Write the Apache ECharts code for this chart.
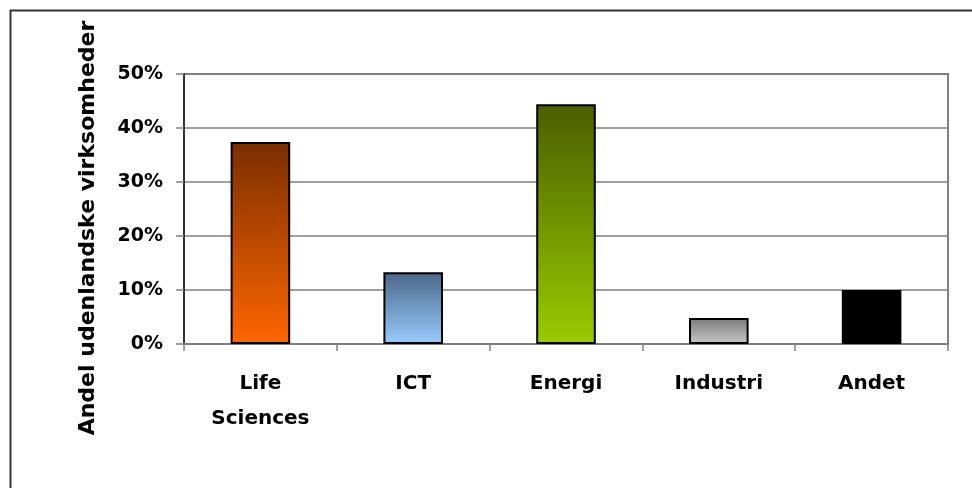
<!DOCTYPE html>
<html>
<head>
<meta charset="utf-8">
<script src="https://cdn.jsdelivr.net/npm/echarts@6/dist/echarts.min.js"></script>
<style>
  html, body { margin: 0; padding: 0; background: #fff; }
  #chart { width: 972px; height: 488px; }
</style>
</head>
<body>
<div id="chart"></div>
<script>
// data
var categories = ['Life\nSciences', 'ICT', 'Energi', 'Industri', 'Andet'];
var shares = [37.4, 13.3, 44.4, 4.8, 10.0];
var yTicks = [0, 10, 20, 30, 40, 50];

// top / bottom colours of each bar
var topColors = ['#7a2e00', '#4a6888', '#4a5e00', '#7a7a7a', '#000000'];
var bottomColors = ['#ff6600', '#99ccff', '#99cc00', '#c8c8c8', '#000000'];

var chart = echarts.init(document.getElementById('chart'));

var barData = shares.map(function (v, i) {
  return {
    value: v,
    itemStyle: {
      color: new echarts.graphic.LinearGradient(0, 0, 0, 1, [
        { offset: 0, color: topColors[i] },
        { offset: 1, color: bottomColors[i] }
      ]),
      borderColor: '#000',
      borderWidth: i === 4 ? 0 : 2
    }
  };
});

chart.setOption({
  animation: false,
  backgroundColor: '#fff',
  textStyle: { fontFamily: 'DejaVu Sans' },
  grid: { left: 184, right: 24, top: 74, bottom: 144, containLabel: false,
          show: true, borderColor: '#808080', borderWidth: 2 },
  xAxis: {
    type: 'category',
    data: categories,
    axisLine: { lineStyle: { color: '#808080', width: 2 } },
    axisTick: { show: true, alignWithLabel: false, length: 7, lineStyle: { color: '#808080', width: 1.5 } },
    axisLabel: { color: '#000', fontWeight: 'bold', fontSize: 20, lineHeight: 35, margin: 22, interval: 0 }
  },
  yAxis: {
    type: 'value',
    min: yTicks[0],
    max: yTicks[yTicks.length - 1],
    interval: 10,
    axisLine: { show: true, lineStyle: { color: '#333', width: 2 } },
    axisTick: { show: true, length: 8, lineStyle: { color: '#808080', width: 1.5 } },
    axisLabel: { color: '#000', fontWeight: 'bold', fontSize: 19, margin: 21, formatter: '{value}%' },
    splitLine: { lineStyle: { color: '#808080', width: 1.5 } }
  },
  series: [{
    type: 'bar',
    data: barData,
    barWidth: '39%'
  }],
  graphic: [
    {
      type: 'rect',
      shape: { x: 10.5, y: 10.5, width: 980, height: 500 },
      style: { fill: null, stroke: '#333', lineWidth: 2 },
      z: -1
    },
    {
      type: 'text',
      x: 88, y: 228,
      rotation: Math.PI / 2,
      style: {
        text: 'Andel udenlandske virksomheder',
        font: 'bold 22px "DejaVu Sans"',
        fill: '#000',
        align: 'center',
        verticalAlign: 'middle'
      }
    }
  ]
});

window.addEventListener('resize', function () {
  chart.resize();
});
</script>
</body>
</html>
